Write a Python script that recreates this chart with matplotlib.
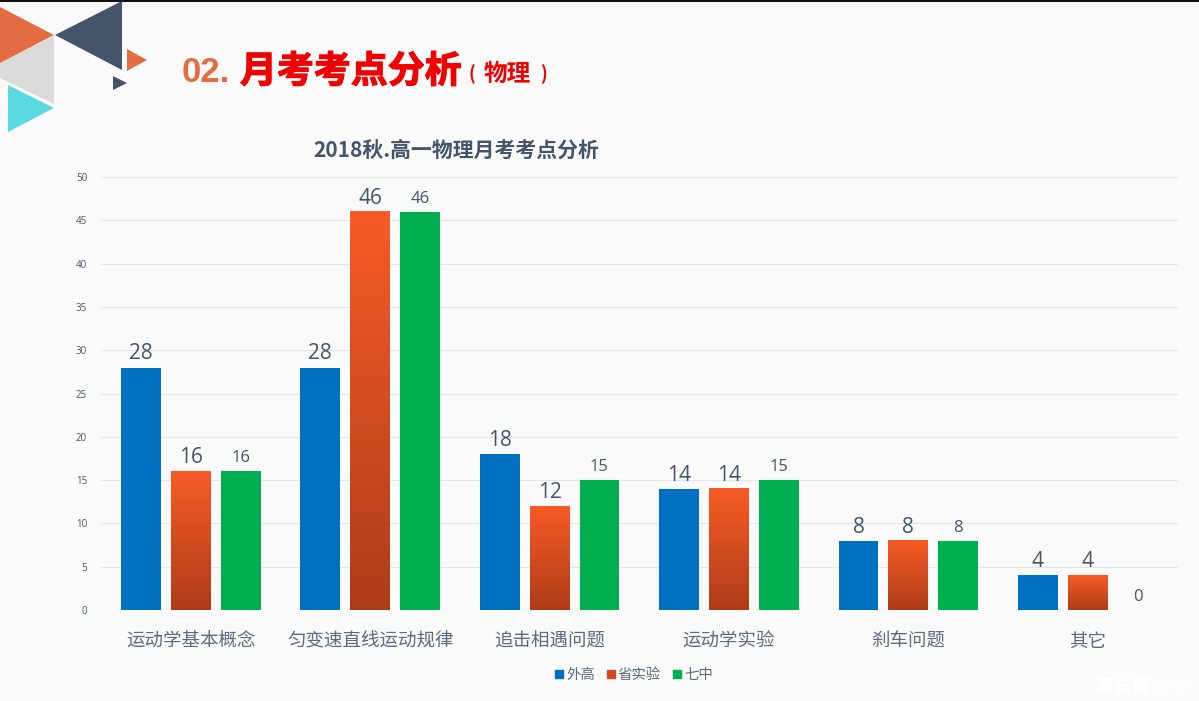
import numpy as np
import matplotlib
matplotlib.use("Agg")
import matplotlib.pyplot as plt
import matplotlib.patheffects as pe
from matplotlib.colors import LinearSegmentedColormap
from matplotlib.patches import Polygon

plt.rcParams['font.family'] = ['Noto Sans CJK SC', 'DejaVu Sans']

categories = ['运动学基本概念', '匀变速直线运动规律', '追击相遇问题', '运动学实验', '刹车问题', '其它']
waigao = [28, 28, 18, 14, 8, 4]
shengshiyan = [16, 46, 12, 14, 8, 4]
qizhong = [16, 46, 15, 15, 8, 0]
series_names = ['外高', '省实验', '七中']
yticks = list(range(0, 55, 5))
title = '2018秋.高一物理月考考点分析'

W, H = 1199, 701
BG = '#FAFAFA'
TXT = '#44546A'
BLUE, GREEN = '#0070C0', '#00B050'
ORANGE_TOP, ORANGE_BOT = '#F75B26', '#AE3C18'

fig = plt.figure(figsize=(W / 100, H / 100), dpi=100, facecolor=BG)

# decorative header layer, in pixel coordinates
deco = fig.add_axes([0, 0, 1, 1], zorder=0)
deco.set_xlim(0, W)
deco.set_ylim(H, 0)
deco.axis('off')
deco.add_patch(Polygon([(0, 0), (1199, 0), (1199, 1.5), (0, 1.5)], color='#111111', lw=0))
deco.add_patch(Polygon([(0, 63), (54, 36), (54, 104), (0, 78)], color='#DADADA', lw=0))
deco.add_patch(Polygon([(0, 7), (54, 35), (0, 63)], color='#E36C43', lw=0))
deco.add_patch(Polygon([(55, 35), (122, 1), (122, 70)], color='#44546A', lw=0))
deco.add_patch(Polygon([(127, 49), (147, 60), (127, 71)], color='#E36C43', lw=0))
deco.add_patch(Polygon([(113, 76), (127, 83), (113, 90)], color='#44546A', lw=0))
deco.add_patch(Polygon([(8, 85), (54, 108), (8, 132)], color='#5AD8DF', ec='white', lw=0))
heavy = [pe.withStroke(linewidth=0.9, foreground='#F00000')]
deco.text(182, 72, '02.', fontsize=25, fontweight='bold', color='#E36C43',
          family=['Liberation Sans'], va='center', ha='left')
deco.text(240, 72, '月考考点分析', fontsize=26.6, fontweight='bold', color='#F00000',
          va='center', ha='left', path_effects=heavy)
deco.text(469, 74, '(', fontsize=13, fontweight='bold', color='#F00000', va='center', ha='left')
deco.text(484, 74, '物理', fontsize=17, fontweight='bold', color='#F00000', va='center', ha='left')
deco.text(540, 74, ')', fontsize=13, fontweight='bold', color='#F00000', va='center', ha='left')
deco.text(1095, 686, '家长帮', fontsize=13, fontweight='bold', color='#FFFFFF', va='center', ha='left')
deco.text(1152, 686, '| jzb.com', fontsize=7, color='#FFFFFF', va='center', ha='left')

# chart
ax = fig.add_axes([101 / W, 1 - 610 / H, 1076.5 / W, 433 / H], zorder=1)
ax.patch.set_alpha(0)
ax.set_xlim(-0.5, len(categories) - 0.5)
ax.set_ylim(0, 50)
for s in ax.spines.values():
    s.set_visible(False)
ax.set_yticks(yticks)
ax.set_yticklabels([str(v) for v in yticks], family=['Open Sans'])
ax.tick_params(axis='y', length=0, labelsize=7, labelcolor=TXT, pad=10)
ax.set_xticks(range(len(categories)))
ax.set_xticklabels(categories, fontsize=13.3, color='#5B6B80')
ax.tick_params(axis='x', length=0, pad=16.5)
ax.grid(axis='y', color='#E3E7EC', lw=0.8)
ax.set_axisbelow(True)

x = np.arange(len(categories))
off, bw = 0.278, 0.222
grad = LinearSegmentedColormap.from_list('o', [ORANGE_TOP, ORANGE_BOT])
ramp = np.linspace(0, 1, 256).reshape(-1, 1)

b1 = ax.bar(x - off, waigao, bw, color=BLUE, zorder=2)
b2 = ax.bar(x, shengshiyan, bw, color=ORANGE_TOP, zorder=2)
b3 = ax.bar(x + off, qizhong, bw, color=GREEN, zorder=2)
for r in b2:
    ax.imshow(ramp, cmap=grad, aspect='auto', zorder=3, interpolation='bilinear',
              extent=(r.get_x(), r.get_x() + r.get_width(), 0, r.get_height()))
ax.set_xlim(-0.5, len(categories) - 0.5)
ax.set_ylim(0, 50)

for bars, fs, gap in ((b1, 15, 2.2), (b2, 15, 2.2), (b3, 12, 3.7)):
    for r in bars:
        ax.annotate(str(int(r.get_height())), (r.get_x() + r.get_width() / 2, r.get_height()),
                    xytext=(0, gap), textcoords='offset points', ha='center', va='bottom',
                    fontsize=fs, color=TXT, family=['Open Sans'], zorder=4)

handles = [plt.Rectangle((0, 0), 1, 1, color=c) for c in (BLUE, '#D24A1F', GREEN)]
fig.legend(handles, series_names, loc='center', bbox_to_anchor=(634 / W, 1 - 675 / H), ncol=3,
           frameon=False, fontsize=10.4, labelcolor='#5B6B80', handlelength=0.55, handleheight=0.55,
           handletextpad=0.2, columnspacing=0.85)
fig.text(456 / W, 1 - 150 / H, title, fontsize=15, fontweight='bold', color=TXT, ha='center', va='center')

fig.savefig('out.png', dpi=100, facecolor=BG)
